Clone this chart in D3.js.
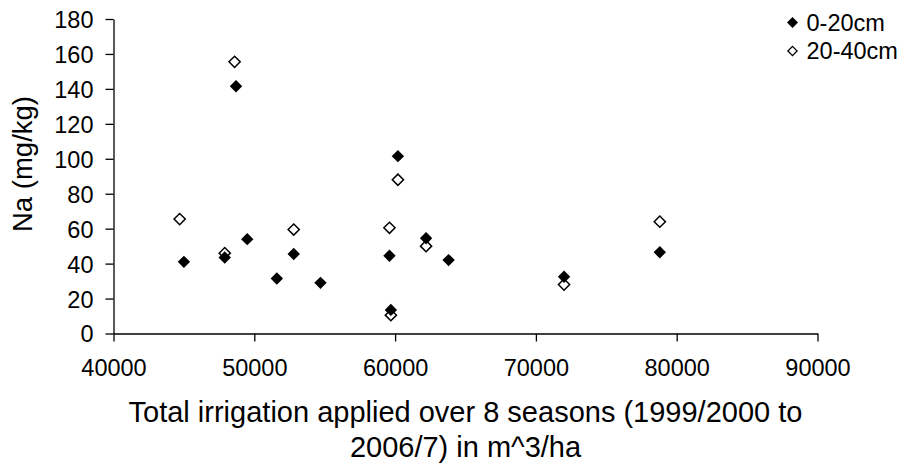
<!DOCTYPE html>
<html>
<head>
<meta charset="utf-8">
<script src="https://cdn.jsdelivr.net/npm/d3@7"></script>
<style>
  html, body { margin: 0; padding: 0; background: #fff; }
  svg { display: block; font-family: "Liberation Sans", Arial, sans-serif; }
</style>
</head>
<body>
<svg id="chart" width="908" height="468"></svg>
<script>
// Sodium at two soil depths against total irrigation applied
const shallowIrrigation = [45000, 47900, 48700, 49500, 51600, 52800, 54700, 59600, 59700, 60200, 62200, 63800, 72000, 78800];
const shallowNa         = [41, 43.5, 141.5, 54, 31.5, 45.5, 29, 44.5, 13.5, 101.5, 54.5, 42, 32.5, 46.5];
const deepIrrigation    = [44700, 47900, 48600, 52800, 59600, 59700, 60200, 62200, 72000, 78800];
const deepNa            = [65.5, 46, 155.5, 59.5, 60.5, 10.5, 88, 50, 28, 64];
const xTicks = [40000, 50000, 60000, 70000, 80000, 90000];
const yTicks = [0, 20, 40, 60, 80, 100, 120, 140, 160, 180];
const seriesNames = ["0-20cm", "20-40cm"];

const svg = d3.select("#chart");
const x = d3.scaleLinear().domain([40000, 90000]).range([113.5, 817.5]);
const y = d3.scaleLinear().domain([0, 180]).range([333.5, 19]);

// axes
const xAxis = svg.append("g").attr("transform", `translate(0,${y(0)})`)
  .call(d3.axisBottom(x).tickValues(xTicks).tickFormat(d3.format("d")).tickSizeOuter(0).tickSizeInner(8).tickPadding(18));
const yAxis = svg.append("g").attr("transform", `translate(${x(40000)},0)`)
  .call(d3.axisLeft(y).tickValues(yTicks).tickFormat(d3.format("d")).tickSizeOuter(0).tickSizeInner(8).tickPadding(12));
[xAxis, yAxis].forEach(a => {
  a.select(".domain").attr("stroke", "#000").attr("stroke-width", 1.3);
  a.selectAll(".tick line").attr("stroke", "#000").attr("stroke-width", 1.3);
  a.selectAll(".tick text").attr("fill", "#000").attr("font-size", 23.5)
    .attr("font-family", "'Liberation Sans', Arial, sans-serif");
});
yAxis.selectAll(".tick text").attr("dy", "0.36em");
xAxis.selectAll(".tick text").attr("dy", "0.71em");

// axis titles
svg.append("text")
  .attr("transform", `translate(32,232) rotate(-90)`)
  .attr("font-size", 27.5).attr("fill", "#000")
  .text("Na (mg/kg)");
const xt = svg.append("text").attr("text-anchor", "middle").attr("font-size", 29).attr("fill", "#000");
xt.append("tspan").attr("x", 465.5).attr("y", 421.5).text("Total irrigation applied over 8 seasons (1999/2000 to");
xt.append("tspan").attr("x", 465.5).attr("y", 456.5).text("2006/7) in m^3/ha");

// diamond markers
const diamond = (r) => `M0,${-r}L${r},0L0,${r}L${-r},0Z`;

const deep = deepIrrigation.map((v, i) => ({ x: v, y: deepNa[i] }));
const shallow = shallowIrrigation.map((v, i) => ({ x: v, y: shallowNa[i] }));

svg.append("g").selectAll("path").data(deep).join("path")
  .attr("transform", d => `translate(${x(d.x)},${y(d.y)})`)
  .attr("d", diamond(5.6))
  .attr("fill", "#fff").attr("stroke", "#000").attr("stroke-width", 1.5);

svg.append("g").selectAll("path").data(shallow).join("path")
  .attr("transform", d => `translate(${x(d.x)},${y(d.y)})`)
  .attr("d", diamond(6.2))
  .attr("fill", "#000");

// legend
const legend = svg.append("g");
const items = [
  { name: seriesNames[0], fill: "#000", stroke: "none", cy: 22.5 },
  { name: seriesNames[1], fill: "#fff", stroke: "#000", cy: 51 }
];
items.forEach(it => {
  legend.append("path")
    .attr("transform", `translate(792.5,${it.cy})`)
    .attr("d", diamond(it.stroke === "none" ? 5.5 : 4.6))
    .attr("fill", it.fill).attr("stroke", it.stroke).attr("stroke-width", 1.3);
  legend.append("text")
    .attr("x", 806.5).attr("y", it.cy).attr("dy", "0.36em")
    .attr("font-size", 23.5).attr("fill", "#000")
    .text(it.name);
});
</script>
</body>
</html>
